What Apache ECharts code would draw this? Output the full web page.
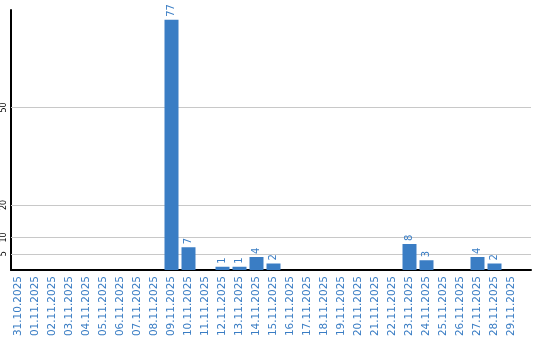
<!DOCTYPE html>
<html><head><meta charset="utf-8">
<script src="https://cdn.jsdelivr.net/npm/echarts@6/dist/echarts.min.js"></script>
<style>html,body{margin:0;padding:0;background:#fff}#c{width:540px;height:340px}</style>
</head><body><div id="c"></div>
<script>
const categories = ['31.10.2025','01.11.2025','02.11.2025','03.11.2025','04.11.2025','05.11.2025','06.11.2025','07.11.2025','08.11.2025','09.11.2025','10.11.2025','11.11.2025','12.11.2025','13.11.2025','14.11.2025','15.11.2025','16.11.2025','17.11.2025','18.11.2025','19.11.2025','20.11.2025','21.11.2025','22.11.2025','23.11.2025','24.11.2025','25.11.2025','26.11.2025','27.11.2025','28.11.2025','29.11.2025'];
const values = [0,0,0,0,0,0,0,0,0,77,7,0,1,1,4,2,0,0,0,0,0,0,0,8,3,0,0,4,2,0];
const yTicks = [5,10,20,50];

const blue = '#3a7dc4';
const chart = echarts.init(document.getElementById('c'));
chart.setOption({
  animation: false,
  grid: [
    {left: 10, right: 9, top: 10, bottom: 70},
    {left: 10, right: 20, top: 10, bottom: 70}
  ],
  xAxis: [
    {gridIndex: 0, type: 'category', data: [''],
     axisLine: {show: true, lineStyle: {color: '#000', width: 2}},
     axisTick: {show: false}, axisLabel: {show: false}, splitLine: {show: false}},
    {gridIndex: 1, type: 'category', data: categories,
     axisLine: {show: false}, axisTick: {show: false},
     axisLabel: {rotate: 90, interval: 0, color: blue, fontFamily: 'DejaVu Sans', fontSize: 10.5, margin: 6}}
  ],
  yAxis: [
    {gridIndex: 0, type: 'value', min: 0, max: 80, interval: 5,
     axisLine: {show: true, lineStyle: {color: '#000', width: 2}},
     axisTick: {show: false}, splitLine: {show: false},
     axisLabel: {rotate: 90, margin: 3, color: '#000', fontFamily: 'DejaVu Sans', fontSize: 8,
       formatter: v => yTicks.includes(v) ? String(v) : ''}},
    {gridIndex: 1, type: 'value', min: 0, max: 80, show: false}
  ],
  series: [
    {type: 'line', xAxisIndex: 0, yAxisIndex: 0, data: [], silent: true,
     markLine: {symbol: 'none', silent: true, label: {show: false},
       lineStyle: {color: '#c8c8c8', type: 'solid', width: 1},
       data: yTicks.map(v => ({yAxis: v}))}},
    {type: 'bar', xAxisIndex: 1, yAxisIndex: 1, data: values, barWidth: 14, z: 5,
     itemStyle: {color: blue},
     label: {show: true, position: 'top', rotate: 90, align: 'left', verticalAlign: 'middle', distance: 3,
       color: blue, fontFamily: 'DejaVu Sans', fontSize: 10,
       formatter: p => p.value > 0 ? String(p.value) : ''}}
  ]
});
</script></body></html>
